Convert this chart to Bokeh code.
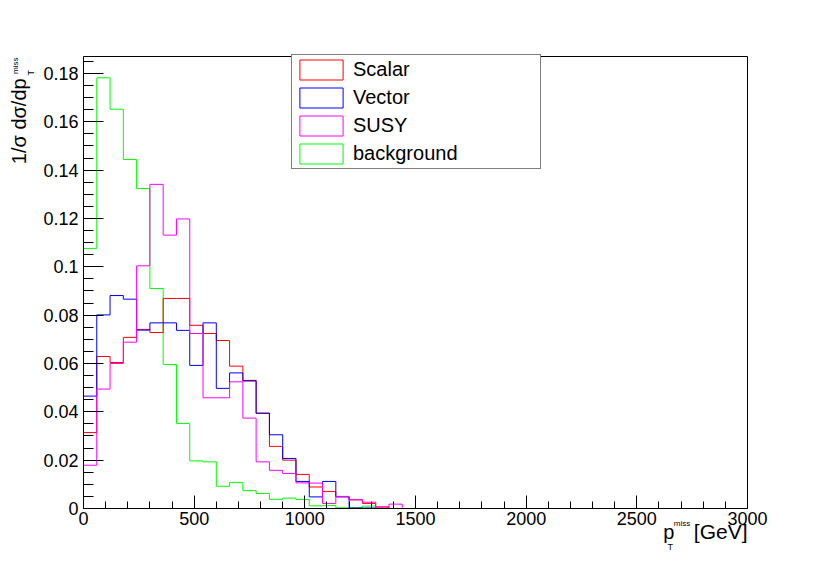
import math
from bokeh.plotting import figure
from bokeh.models import Range1d, FixedTicker, Label, Legend, LegendItem, LinearAxis
from bokeh.embed import file_html
from bokeh.resources import INLINE

# ---------------- data (50 bins of 60 GeV, 0..3000 GeV) ----------------
bin_width = 60
n_bins = 50

scalar = [0.0314, 0.0629, 0.0604, 0.0708, 0.0741, 0.0728, 0.0869, 0.0869, 0.0758, 0.0724,
          0.0695, 0.0589, 0.0527, 0.0393, 0.0257, 0.0200, 0.0141, 0.0089, 0.0070, 0.0049,
          0.0036, 0.0021, 0.0007, 0, 0, 0, 0, 0, 0, 0,
          0, 0, 0, 0, 0, 0, 0, 0, 0, 0,
          0, 0, 0, 0, 0, 0, 0, 0, 0, 0]

vector = [0.0465, 0.0801, 0.0881, 0.0866, 0.0738, 0.0768, 0.0768, 0.0737, 0.0592, 0.0768,
          0.0497, 0.0561, 0.0530, 0.0395, 0.0305, 0.0207, 0.0112, 0.0048, 0.0112, 0.0048,
          0.0002, 0.0002, 0, 0, 0, 0, 0, 0, 0, 0,
          0, 0, 0, 0, 0, 0, 0, 0, 0, 0,
          0, 0, 0, 0, 0, 0, 0, 0, 0, 0]

susy = [0.0179, 0.0494, 0.0600, 0.0688, 0.1004, 0.1341, 0.1131, 0.1198, 0.0724, 0.0458,
        0.0458, 0.0524, 0.0374, 0.0193, 0.0158, 0.0145, 0.0106, 0.0105, 0.0021, 0.0050,
        0.0036, 0.0026, 0.0003, 0.0018, 0, 0, 0, 0, 0, 0,
        0, 0, 0, 0, 0, 0, 0, 0, 0, 0,
        0, 0, 0, 0, 0, 0, 0, 0, 0, 0]

background = [0.1076, 0.1782, 0.1652, 0.1444, 0.1324, 0.0910, 0.0596, 0.0352, 0.0197, 0.0193,
              0.0092, 0.0108, 0.0074, 0.0062, 0.0038, 0.0043, 0.0037, 0.0011, 0.0012, 0.0003,
              0.0003, 0.0010, 0, 0, 0, 0, 0, 0, 0, 0,
              0, 0, 0, 0, 0, 0, 0, 0, 0, 0,
              0, 0, 0, 0, 0, 0, 0, 0, 0, 0]

series_names = ["Scalar", "Vector", "SUSY", "background"]
x_ticks = [0, 500, 1000, 1500, 2000, 2500, 3000]
y_ticks = [0, 0.02, 0.04, 0.06, 0.08, 0.1, 0.12, 0.14, 0.16, 0.18]
y_tick_labels = ["0", "0.02", "0.04", "0.06", "0.08", "0.1", "0.12", "0.14", "0.16", "0.18"]

FONT = "Liberation Sans"
XMAX, YMAX = 3000, 0.187
edges = [i * bin_width for i in range(n_bins + 1)]

# ---------------- layout (canvas pixels) ----------------
CW, CH = 822, 560          # canvas size
L, R, T, B = 83, 747, 56, 508   # plotting box inside the canvas
sx = XMAX / (R - L)
sy = YMAX / (B - T)

p = figure(frame_width=CW, frame_height=CH,
           min_border=0, min_border_left=0, min_border_right=0,
           min_border_top=0, min_border_bottom=0,
           x_range=Range1d(-L * sx, XMAX + (CW - R) * sx),
           y_range=Range1d(-(CH - B) * sy, YMAX + T * sy),
           x_axis_location=None, y_axis_location=None,
           output_backend="svg", toolbar_location=None,
           background_fill_color="white", border_fill_color="white")
p.xgrid.visible = False
p.ygrid.visible = False
p.outline_line_color = None

x_minor = [i * 100 for i in range(31)]
y_minor = [i * 0.005 for i in range(38)]

xaxis = LinearAxis(fixed_location=0, bounds=(0, XMAX),
                   ticker=FixedTicker(ticks=x_ticks, minor_ticks=x_minor))
yaxis = LinearAxis(fixed_location=0, bounds=(0, YMAX),
                   ticker=FixedTicker(ticks=y_ticks, minor_ticks=y_minor))
yaxis.major_label_overrides = dict(zip(y_ticks, y_tick_labels))

for ax, tin, tmin in ((xaxis, 13, 7), (yaxis, 20, 10)):
    ax.major_tick_in = tin
    ax.major_tick_out = 0
    ax.minor_tick_in = tmin
    ax.minor_tick_out = 0
    ax.axis_line_color = "black"
    ax.major_tick_line_color = "black"
    ax.minor_tick_line_color = "black"
    ax.major_label_text_font = FONT
    ax.major_label_text_font_size = "18px"
    ax.major_label_text_color = "black"
xaxis.major_label_standoff = 3
yaxis.major_label_standoff = 5
p.add_layout(xaxis, "below")
p.add_layout(yaxis, "left")

# frame top / right edges (no ticks)
top_edge = LinearAxis(fixed_location=YMAX, bounds=(0, XMAX), ticker=FixedTicker(ticks=[]),
                      major_tick_in=0, major_tick_out=0, minor_tick_in=0, minor_tick_out=0,
                      axis_line_color="black")
right_edge = LinearAxis(fixed_location=XMAX, bounds=(0, YMAX), ticker=FixedTicker(ticks=[]),
                        major_tick_in=0, major_tick_out=0, minor_tick_in=0, minor_tick_out=0,
                        axis_line_color="black")
p.add_layout(top_edge, "above")
p.add_layout(right_edge, "right")

# ---------------- histograms ----------------
def step_y(vals):
    return list(vals) + [vals[-1]]

p.step(edges, step_y(background), mode="after", line_color="#00ff00", line_width=1)
p.step(edges, step_y(scalar), mode="after", line_color="#ff0000", line_width=1)
p.step(edges, step_y(vector), mode="after", line_color="#0000ff", line_width=1)
p.step(edges, step_y(susy), mode="after", line_color="#ff00ff", line_width=1)

# legend boxes (outlined, unfilled like ROOT "f" style); NaN quads are never drawn in the plot
colors = ["#ff0000", "#0000ff", "#ff00ff", "#00ff00"]
nan = float("nan")
items = []
for name, c in zip(series_names, colors):
    q = p.quad(left=[nan], right=[nan], top=[nan], bottom=[nan],
               fill_alpha=0, line_color=c, line_width=1)
    items.append(LegendItem(label=name, renderers=[q]))

legend = Legend(items=items, location=(291, CH - 169),
                glyph_width=54, glyph_height=25, spacing=3, padding=2,
                label_standoff=5, label_width=185, label_height=25,
                label_text_font=FONT, label_text_font_size="20px", label_text_color="black",
                border_line_color="black", border_line_width=1,
                background_fill_color="white", background_fill_alpha=1.0,
                margin=0)
p.add_layout(legend)

# ---------------- axis titles ----------------
def lab(text, x, y, dx, dy, size, align="left", angle=0):
    p.add_layout(Label(x=x, y=y, x_offset=dx, y_offset=dy, text=text, angle=angle,
                       text_font=FONT, text_font_size=size, text_color="black",
                       text_align=align, text_baseline="middle"))

# x title: p_T^miss[GeV] anchored at the bottom-right corner of the box
lab("p", XMAX, 0, -84.3, -23.3, "20px")
lab("miss", XMAX, 0, -73.7, -14.9, "8px")
lab("T", XMAX, 0, -80, -38.9, "9px")
lab("[GeV]", XMAX, 0, 0, -23, "21px", align="right")

# y title: 1/σ dσ/dp_T^miss anchored at the top-left corner of the box
lab("1/σ dσ/dp", 0, YMAX, -65, -107.7, "20px", angle=math.pi / 2)
lab("miss", 0, YMAX, -67.8, -17.5, "8px", angle=math.pi / 2)
lab("T", 0, YMAX, -52.9, -19, "9px", angle=math.pi / 2)

open("out.html", "w").write(file_html(p, INLINE))
